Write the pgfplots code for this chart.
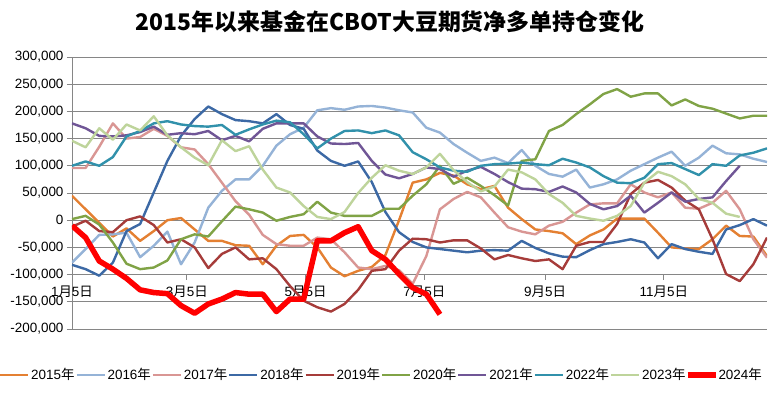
\documentclass[border=0pt]{standalone}
\usepackage{fontspec}
\setmainfont{Liberation Sans}
\newfontfamily\cjk{Noto Sans CJK SC}
\usepackage{pgfplots}
\pgfplotsset{compat=1.18}
\definecolor{c15}{RGB}{228,128,50}
\definecolor{c16}{RGB}{149,179,215}
\definecolor{c17}{RGB}{217,150,148}
\definecolor{c18}{RGB}{60,105,165}
\definecolor{c19}{RGB}{166,60,58}
\definecolor{c20}{RGB}{128,163,70}
\definecolor{c21}{RGB}{112,86,150}
\definecolor{c22}{RGB}{49,145,171}
\definecolor{c23}{RGB}{190,212,155}
\definecolor{c24}{RGB}{255,0,0}
\definecolor{gridc}{RGB}{134,134,134}
\newcommand{\nian}{{\cjk 年}}
\begin{document}
\begin{tikzpicture}
\path[use as bounding box] (-72bp,-70bp) rectangle (709bp,329bp);
\begin{axis}[
  at={(0,0)}, anchor=south west,
  scale only axis, width=695bp, height=272bp,
  xmin=0, xmax=51, ymin=-200, ymax=300,
  ytick={-200,-150,...,300},
  yticklabels={{-200,000},{-150,000},{-100,000},{-50,000},{0},{50,000},{100,000},{150,000},{200,000},{250,000},{300,000}},
  ymajorgrids, grid style={gridc, line width=0.9bp},
  axis y line*=left, axis x line*=bottom,
  x axis line style={draw=none},
  y axis line style={gridc, line width=0.9bp},
  tick align=outside, major tick length=5bp,
  ytick style={gridc, line width=0.9bp},
  xtick={0,8.4286,17.1429,25.8571,34.7143,43.4286},
  xticklabels={1{\cjk 月}5{\cjk 日},3{\cjk 月}5{\cjk 日},5{\cjk 月}5{\cjk 日},7{\cjk 月}5{\cjk 日},9{\cjk 月}5{\cjk 日},11{\cjk 月}5{\cjk 日}},
  xtick style={gridc, line width=0.9bp, yshift=54.4bp},
  x tick label style={yshift=52bp},
  tick label style={font=\fontsize{13.5}{16}\selectfont},
  every axis plot/.append style={line join=round},
  legend columns=10,
  legend style={at={(-0.1036,-0.169)}, anchor=west, draw=none, fill=none,
    font=\fontsize{13.5}{16}\selectfont, inner sep=0pt, nodes={inner sep=1bp},
    /tikz/every odd column/.append style={column sep=2bp},
    /tikz/every even column/.append style={column sep=1bp},
    /tikz/column 18/.append style={column sep=-12bp},
    /tikz/column 19/.append style={column sep=5bp}},
  legend image code/.code={\draw[#1, overlay] (0bp,0bp) -- (28bp,0bp); \path[draw=none, fill=none] (0bp,-3bp) rectangle (28bp,3bp);},
]
\addplot[c15, line width=2.4bp] coordinates {(0,45)(1,20)(2,-5)(3,-30)(4,-15)(5,-38)(6,-20)(7,0)(8,4)(9,-17)(10,-38)(11,-38)(12,-46)(13,-47)(14,-81)(15,-47)(16,-29)(17,-27)(18,-50)(19,-87)(20,-103)(21,-93)(22,-86)(23,-64)(24,0)(25,69)(26,75)(27,87)(28,82)(29,66)(30,57)(31,63)(32,23)(33,2)(34,-17)(35,-20)(36,-24)(37,-44)(38,-28)(39,-17)(40,3)(41,3)(42,3)(43,-23)(44,-50)(45,-52)(46,-53)(47,-35)(48,-10)(49,-29)(50,-30)(51,-66)};
\addlegendentry{2015\nian}
\addplot[c16, line width=2.4bp] coordinates {(0,-78)(1,-53)(2,-27)(3,-26)(4,-23)(5,-68)(6,-47)(7,-21)(8,-81)(9,-41)(10,23)(11,54)(12,75)(13,75)(14,100)(15,137)(16,158)(17,170)(18,202)(19,206)(20,203)(21,209)(22,210)(23,207)(24,202)(25,198)(26,170)(27,161)(28,140)(29,124)(30,109)(31,115)(32,105)(33,129)(34,100)(35,85)(36,80)(37,93)(38,60)(39,66)(40,75)(41,91)(42,103)(43,115)(44,126)(45,100)(46,115)(47,137)(48,123)(49,121)(50,113)(51,107)};
\addlegendentry{2016\nian}
\addplot[c17, line width=2.4bp] coordinates {(0,96)(1,96)(2,135)(3,178)(4,150)(5,153)(6,168)(7,155)(8,134)(9,130)(10,103)(11,69)(12,35)(13,10)(14,-27)(15,-44)(16,-47)(17,-47)(18,-32)(19,-35)(20,-59)(21,-87)(22,-90)(23,-84)(24,-92)(25,-117)(26,-66)(27,20)(28,39)(29,52)(30,42)(31,14)(32,-13)(33,-21)(34,-26)(35,-10)(36,-3)(37,14)(38,29)(39,31)(40,31)(41,66)(42,51)(43,42)(44,51)(45,23)(46,21)(47,32)(48,54)(49,20)(50,-35)(51,-69)};
\addlegendentry{2017\nian}
\addplot[c18, line width=2.4bp] coordinates {(0,-82)(1,-90)(2,-102)(3,-78)(4,-20)(5,-7)(6,51)(7,109)(8,155)(9,186)(10,209)(11,195)(12,184)(13,182)(14,178)(15,195)(16,175)(17,168)(18,128)(19,109)(20,100)(21,108)(22,70)(23,15)(24,-22)(25,-40)(26,-50)(27,-53)(28,-56)(29,-59)(30,-56)(31,-55)(32,-56)(33,-38)(34,-51)(35,-61)(36,-67)(37,-68)(38,-55)(39,-44)(40,-40)(41,-35)(42,-41)(43,-70)(44,-44)(45,-53)(46,-58)(47,-62)(48,-17)(49,-9)(50,2)(51,-10)};
\addlegendentry{2018\nian}
\addplot[c19, line width=2.4bp] coordinates {(0,-12)(1,-1)(2,-20)(3,-22)(4,0)(5,7)(6,-9)(7,-41)(8,-35)(9,-50)(10,-88)(11,-62)(12,-50)(13,-72)(14,-70)(15,-90)(16,-121)(17,-148)(18,-160)(19,-168)(20,-154)(21,-128)(22,-93)(23,-90)(24,-56)(25,-34)(26,-35)(27,-41)(28,-37)(29,-37)(30,-52)(31,-72)(32,-64)(33,-70)(34,-75)(35,-72)(36,-90)(37,-47)(38,-40)(39,-40)(40,-7)(41,48)(42,69)(43,74)(44,60)(45,36)(46,20)(47,-35)(48,-99)(49,-112)(50,-81)(51,-32)};
\addlegendentry{2019\nian}
\addplot[c20, line width=2.4bp] coordinates {(0,2)(1,8)(2,-8)(3,-41)(4,-80)(5,-90)(6,-87)(7,-74)(8,-35)(9,-26)(10,-30)(11,-2)(12,25)(13,20)(14,14)(15,-1)(16,6)(17,11)(18,34)(19,14)(20,8)(21,8)(22,8)(23,21)(24,21)(25,45)(26,66)(27,100)(28,67)(29,78)(30,63)(31,46)(32,27)(33,109)(34,112)(35,164)(36,175)(37,195)(38,213)(39,232)(40,241)(41,227)(42,233)(43,233)(44,211)(45,222)(46,210)(47,205)(48,196)(49,187)(50,192)(51,192)};
\addlegendentry{2020\nian}
\addplot[c21, line width=2.4bp] coordinates {(0,178)(1,169)(2,155)(3,154)(4,156)(5,162)(6,172)(7,157)(8,160)(9,158)(10,164)(11,147)(12,155)(13,145)(14,168)(15,178)(16,178)(17,178)(18,154)(19,141)(20,140)(21,142)(22,109)(23,84)(24,77)(25,85)(26,97)(27,94)(28,80)(29,91)(30,98)(31,85)(32,70)(33,58)(34,57)(35,52)(36,62)(37,51)(38,30)(39,20)(40,26)(41,45)(42,14)(43,32)(44,51)(45,34)(46,39)(47,42)(48,72)(49,100)};
\addlegendentry{2021\nian}
\addplot[c22, line width=2.4bp] coordinates {(0,100)(1,108)(2,100)(3,116)(4,154)(5,164)(6,178)(7,182)(8,176)(9,173)(10,172)(11,175)(12,157)(13,167)(14,176)(15,183)(16,180)(17,158)(18,132)(19,150)(20,164)(21,165)(22,160)(23,165)(24,156)(25,125)(26,112)(27,97)(28,91)(29,89)(30,100)(31,103)(32,104)(33,106)(34,103)(35,101)(36,113)(37,106)(38,97)(39,81)(40,69)(41,68)(42,78)(43,103)(44,105)(45,94)(46,83)(47,103)(48,100)(49,119)(50,124)(51,132)};
\addlegendentry{2022\nian}
\addplot[c23, line width=2.4bp] coordinates {(0,146)(1,134)(2,169)(3,148)(4,176)(5,165)(6,191)(7,156)(8,134)(9,115)(10,101)(11,147)(12,127)(13,136)(14,93)(15,60)(16,51)(17,26)(18,6)(19,2)(20,15)(21,50)(22,78)(23,101)(24,91)(25,85)(26,97)(27,122)(28,92)(29,70)(30,53)(31,62)(32,93)(33,88)(34,75)(35,48)(36,32)(37,8)(38,3)(39,-1)(40,8)(41,26)(42,69)(43,89)(44,81)(45,66)(46,39)(47,32)(48,12)(49,6)};
\addlegendentry{2023\nian}
\addplot[c24, line width=5.5bp] coordinates {(0,-10)(1,-32)(2,-75)(3,-90)(4,-107)(5,-128)(6,-133)(7,-135)(8,-157)(9,-171)(10,-154)(11,-145)(12,-133)(13,-136)(14,-136)(15,-168)(16,-145)(17,-145)(18,-38)(19,-38)(20,-23)(21,-12)(22,-56)(23,-72)(24,-99)(25,-124)(26,-136)(27,-173)};
\addlegendentry{2024\nian}
\end{axis}
\node[font=\cjk\bfseries\fontsize{23}{26}\selectfont] at (318bp,307bp) {2015年以来基金在CBOT大豆期货净多单持仓变化};
\end{tikzpicture}
\end{document}
